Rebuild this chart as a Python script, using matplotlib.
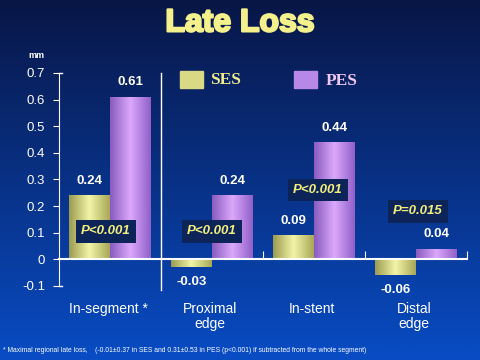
import matplotlib
matplotlib.use('Agg')
import matplotlib.pyplot as plt
import matplotlib.patheffects as pe
import numpy as np
from matplotlib.colors import LinearSegmentedColormap

"""DATA"""
Categories = ['In-segment *', 'Proximal\nedge', 'In-stent', 'Distal\nedge']
SES = [0.24, -0.03, 0.09, -0.06]
PES = [0.61, 0.24, 0.44, 0.04]
PLabels = ['P<0.001', 'P<0.001', 'P<0.001', 'P=0.015']
# box centre in data units (x offset from category centre, y value)
PBoxX = [-0.04, 0.0, 0.04, 0.02]
PBoxY = [0.105, 0.105, 0.26, 0.18]
Footnote = ('* Maximal regional late loss,    (-0.01\u00b10.37 in SES and 0.31\u00b10.53 '
            'in PES (p<0.001) if subtracted from the whole segment)')

plt.rcParams['font.family'] = ['Liberation Sans', 'DejaVu Sans']

fig = plt.figure(figsize=(4.8, 3.6), dpi=100)

# Background gradient, dark navy top -> blue bottom
bg = fig.add_axes([0, 0, 1, 1])
top = np.array([8, 22, 70]) / 255
bot = np.array([8, 76, 196]) / 255
t = np.linspace(0, 1, 256)[:, None]
grad = top[None, None, :] * (1 - t[:, :, None]) + bot[None, None, :] * t[:, :, None]
bg.imshow(np.repeat(grad, 2, axis=1), aspect='auto', extent=[0, 1, 0, 1])
bg.axis('off')

ax = fig.add_axes([0.123, 0.2056, 0.85, 0.5917])
ax.patch.set_alpha(0)

x = np.arange(len(Categories))
w = 0.4
ses_bars = ax.bar(x - w / 2, SES, w, color='#d8d880', zorder=2)
pes_bars = ax.bar(x + w / 2, PES, w, color='#c088ee', zorder=2)

ses_cmap = LinearSegmentedColormap.from_list('ses', ['#9c9c50', '#f4f4a8', '#a8a858'])
pes_cmap = LinearSegmentedColormap.from_list('pes', ['#8a5cc0', '#dca8fc', '#9060c8'])
prof = np.linspace(0, 1, 64)[None, :]
for bars, cm in [(ses_bars, ses_cmap), (pes_bars, pes_cmap)]:
    for b in bars:
        bx, by, bw, bh = b.get_x(), b.get_y(), b.get_width(), b.get_height()
        im = ax.imshow(prof, cmap=cm, aspect='auto', zorder=2.1,
                       extent=[bx, bx + bw, min(by, by + bh), max(by, by + bh)])
        im.set_clip_path(b)

ax.set_xlim(-0.5, 3.5)
ax.set_ylim(-0.1, 0.7)

# value labels
for bars, vals in [(ses_bars, SES), (pes_bars, PES)]:
    for b, v in zip(bars, vals):
        cx = b.get_x() + b.get_width() / 2
        off = 10.5 if v >= 0 else -10.5
        ax.annotate('%.2f' % v, (cx, v), xytext=(0, off), textcoords='offset points',
                    ha='center', va='center', color='white', fontsize=9.5,
                    fontweight='bold', zorder=5)

# P value boxes
for i, lab in enumerate(PLabels):
    ax.text(x[i] + PBoxX[i], PBoxY[i], lab, ha='center', va='center',
            color='#f4f080', fontsize=9.5, fontweight='bold', style='italic', zorder=6,
            bbox=dict(boxstyle='square,pad=0.4', fc='#0c2458', ec='none'))

# axes styling
for s in ['top', 'right']:
    ax.spines[s].set_visible(False)
ax.spines['left'].set_color('white')
ax.spines['bottom'].set_color('white')
ax.spines['bottom'].set_position(('data', 0))
ax.spines['bottom'].set_linewidth(1.5)
ax.spines['bottom'].set_zorder(4)
ax.set_yticks(np.arange(-0.1, 0.71, 0.1))
ax.set_yticklabels(['-0.1', '0', '0.1', '0.2', '0.3', '0.4', '0.5', '0.6', '0.7'])
ax.tick_params(axis='y', colors='white', labelsize=9.5, length=4, pad=6)
ax.set_xticks([1.5, 2.5, 3.5])
ax.tick_params(axis='x', colors='white', direction='in', length=6, labelbottom=False)
ax.plot([0.5, 0.5], [-0.115, 0.7], color='white', lw=1, clip_on=False, zorder=3)
# small right-pointing stubs at both ends of the y axis
ax.plot([-0.5, -0.47], [0.7, 0.7], color='white', lw=1, clip_on=False)
ax.plot([-0.5, -0.47], [-0.1, -0.1], color='white', lw=1, clip_on=False)

for i, c in enumerate(Categories):
    ax.text(x[i] - 0.02, -0.16, c, ha='center', va='top', color='white',
            fontsize=10, linespacing=1.1)

ax.text(-0.72, 0.755, 'mm', color='white', fontsize=6.5, fontweight='bold', ha='center')

# legend
ax.add_patch(plt.Rectangle((0.69, 0.645), 0.22, 0.062, transform=ax.transData,
                           color='#dada84', clip_on=False, zorder=3))
ax.text(0.98, 0.673, 'SES', color='#f0ec90', fontsize=12.5, fontweight='bold',
        family='Liberation Serif', va='center')
ax.add_patch(plt.Rectangle((1.80, 0.645), 0.23, 0.062, transform=ax.transData,
                           color='#b888e8', clip_on=False, zorder=3))
ax.text(2.11, 0.670, 'PES', color='#f0c8f4', fontsize=12.5, fontweight='bold',
        family='Liberation Serif', va='center')

fig.text(0.5, 0.935, 'Late Loss', color='#f4f08c', fontsize=23, fontweight='bold',
         ha='center', va='center',
         path_effects=[pe.withStroke(linewidth=1.6, foreground='#f4f08c')])
fig.text(0.006, 0.025, Footnote, color='white', fontsize=4.9, ha='left', va='center')

fig.savefig('out.png', dpi=100)
